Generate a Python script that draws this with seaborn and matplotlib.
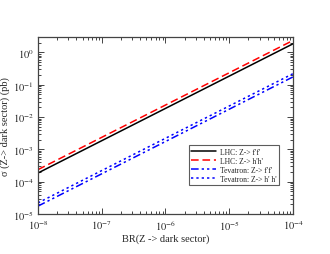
import numpy as np
import pandas as pd
import matplotlib
matplotlib.use('Agg')
import matplotlib.pyplot as plt
import seaborn as sns
from matplotlib.ticker import LogLocator, NullFormatter, FuncFormatter

# values (log-log straight lines)
br = [1e-8, 1e-4]
lhc_ff = [1.85e-4, 1.85]
lhc_hh = [2.35e-4, 2.35]
tev_ff = [1.75e-5, 0.175]
tev_hh = [2.2e-5, 0.22]

labels = ["LHC: Z-> f'f'", "LHC: Z-> h'h'", "Tevatron: Z-> f'f'", "Tevatron: Z-> h' h'"]
colors = ['black', '#ff0000', '#0000ff', '#0000ff']
dashes = [(None, None), (5, 2.5), (5, 2, 1.5, 2, 1.5, 2), (1.5, 2)]

sns.set_style('ticks')
plt.rcParams['font.family'] = ['Liberation Serif', 'DejaVu Serif']
plt.rcParams['mathtext.fontset'] = 'stix'

fig = plt.figure(figsize=(3.3, 2.55), dpi=100)
ax = fig.add_axes([0.115, 0.157, 0.773, 0.694])

for ys, lab, col, ds in zip([lhc_ff, lhc_hh, tev_ff, tev_hh], labels, colors, dashes):
    df = pd.DataFrame({'br': br, 'sigma': ys})
    sns.lineplot(data=df, x='br', y='sigma', ax=ax, color=col, label=lab, linewidth=1.1)
    if ds[0] is not None:
        ax.lines[-1].set_dashes(ds)

ax.set_xscale('log')
ax.set_yscale('log')
ax.set_xlim(1e-8, 1e-4)
ax.set_ylim(1e-5, 3)

fmt = FuncFormatter(lambda v, p: r'$10^{%d}$' % round(np.log10(v)))
ax.xaxis.set_major_locator(LogLocator(base=10, numticks=10))
ax.yaxis.set_major_locator(LogLocator(base=10, numticks=10))
ax.xaxis.set_minor_locator(LogLocator(base=10, subs=np.arange(2, 10), numticks=20))
ax.yaxis.set_minor_locator(LogLocator(base=10, subs=np.arange(2, 10), numticks=20))
ax.xaxis.set_major_formatter(fmt)
ax.yaxis.set_major_formatter(fmt)
ax.xaxis.set_minor_formatter(NullFormatter())
ax.yaxis.set_minor_formatter(NullFormatter())
ax.tick_params(which='both', direction='in', top=True, right=True,
               labelsize=7.5, color='#444444', width=0.7)
ax.tick_params(which='major', length=4, pad=3)
ax.tick_params(which='minor', length=2)
for sp in ax.spines.values():
    sp.set_color('#444444')
    sp.set_linewidth(0.9)

ax.set_xlabel('BR(Z -> dark sector)', fontsize=7.5, labelpad=1)
ax.set_ylabel('σ (Z-> dark sector) (pb)', fontsize=7.5, labelpad=2)

leg = ax.legend(loc='lower right', bbox_to_anchor=(0.96, 0.14), fontsize=5.5,
                frameon=True, fancybox=False, handlelength=3.2,
                borderpad=0.3, labelspacing=0.15, handletextpad=0.6)
leg.get_frame().set_edgecolor('#333333')
leg.get_frame().set_linewidth(0.8)

fig.savefig('out.png', dpi=100)
